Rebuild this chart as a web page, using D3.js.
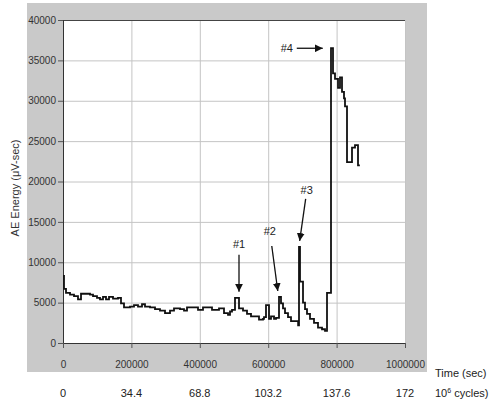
<!DOCTYPE html>
<html><head><meta charset="utf-8">
<script src="https://cdn.jsdelivr.net/npm/d3@7"></script>
<style>body{margin:0;background:#fff}text{font-family:"Liberation Sans",Arial,sans-serif}</style>
</head><body><svg id="c" width="489" height="404"></svg>
<script>
const timeSec = [0,2924,8772,20468,32164,43860,52632,78947,87719,99415,108187,116959,125731,134503,146199,160819,169591,178363,195906,207602,219298,230994,239766,254386,269006,283626,298246,312865,324561,342105,353801,362573,394737,409357,435673,456140,470760,482456,488304,494152,502924,514620,526316,538012,549708,573099,584795,587719,593567,602339,608187,617032,622807,631579,637427,643275,649123,657895,666667,687500,690058,692982,701754,707602,713450,722222,733918,745614,757310,766082,771930,783626,789474,795322,804094,809942,815789,821637,824561,830409,845029,853801,862573];
const energy  = [8300,6700,6200,6000,5800,5400,6100,6000,5800,5600,5400,5700,5400,5700,5500,5600,4900,4400,4500,4700,4500,4800,4500,4400,4200,4000,3700,4000,4300,4200,4000,4400,4100,4400,4100,4300,3700,3500,3900,4100,5600,4300,4000,3600,3300,2900,3000,3200,4700,3000,3300,3000,3100,5700,4900,4300,3700,3200,2700,2200,11900,7600,5000,4200,3600,3000,2500,1900,1700,1500,6200,36500,33400,32700,31600,32900,31100,30300,29300,22400,24200,24500,22000];
const endTime = 868000;
const xTicks = [0,200000,400000,600000,800000,1000000];
const yTicks = [0,5000,10000,15000,20000,25000,30000,35000,40000];
const cycleLabels = ["0","34.4","68.8","103.2","137.6","172"];
const notes = [
  {label:"#1", t:514620, v:5600, from:[0,-37], lab:[0,-48]},
  {label:"#2", t:628000, v:5700, from:[-6,-45], lab:[-8,-60]},
  {label:"#3", t:692000, v:11900, from:[6,-42], lab:[7,-51]},
  {label:"#4", t:780000, v:36500, from:[-33,0], lab:[-43,0]}
];

const svg = d3.select("#c");
const L=63,T=20,R=405,B=343;
const x = d3.scaleLinear().domain([0,1000000]).range([L,R]);
const y = d3.scaleLinear().domain([0,40000]).range([B,T]);

svg.append("defs").append("marker").attr("id","ah").attr("viewBox","0 0 10 10")
  .attr("refX",10).attr("refY",5).attr("markerWidth",6).attr("markerHeight",6).attr("orient","auto")
  .append("path").attr("d","M0,0L10,5L0,10z").attr("fill","#111");

svg.append("rect").attr("x",27).attr("y",3).attr("width",400).attr("height",369).attr("fill","#c9c9c9");
svg.append("rect").attr("x",L).attr("y",T).attr("width",R-L).attr("height",B-T).attr("fill","#fff");

// grid
svg.append("g").selectAll("line").data(yTicks.slice(1,-1)).join("line")
  .attr("x1",L).attr("x2",R).attr("y1",d=>y(d)+0.5).attr("y2",d=>y(d)+0.5).attr("stroke","#c4c4c4");
svg.append("g").selectAll("line").data(xTicks.slice(1)).join("line")
  .attr("y1",T).attr("y2",B).attr("x1",d=>x(d)+0.5).attr("x2",d=>x(d)+0.5).attr("stroke","#c4c4c4");
svg.append("line").attr("x1",L).attr("x2",R).attr("y1",T+0.5).attr("y2",T+0.5).attr("stroke","#444");

// axes
const ya = svg.append("g").attr("transform",`translate(${L},0)`)
  .call(d3.axisLeft(y).tickValues(yTicks).tickFormat(d3.format("d")).tickSize(5).tickPadding(2));
const xa = svg.append("g").attr("transform",`translate(0,${B})`)
  .call(d3.axisBottom(x).tickValues(xTicks).tickFormat(d3.format("d")).tickSize(5).tickPadding(13));
[ya,xa].forEach(g=>{g.select(".domain").attr("stroke","#333");g.selectAll(".tick line").attr("stroke","#555");
  g.selectAll("text").attr("font-size",10).attr("fill","#333").attr("font-family","Liberation Sans, Arial");});

// cycles row
svg.append("g").selectAll("text").data(xTicks).join("text")
  .attr("x",(d)=>x(d)).attr("y",397).attr("text-anchor","middle").attr("font-size",11).attr("fill","#222")
  .text((d,i)=>cycleLabels[i]);

svg.append("text").attr("x",435).attr("y",377).attr("font-size",11).attr("fill","#222").text("Time (sec)");
const cy = svg.append("text").attr("x",435).attr("y",397).attr("font-size",11).attr("fill","#222");
cy.append("tspan").text("10");
cy.append("tspan").attr("dy",-4).attr("font-size",7).text("6");
cy.append("tspan").attr("dy",4).text(" cycles)");

svg.append("text").attr("transform","translate(19,188) rotate(-90)").attr("text-anchor","middle")
  .attr("font-size",11).attr("fill","#333").text("AE Energy (\u03bcV-sec)");

// data line
const pts = timeSec.map((t,i)=>[t,energy[i]]);
pts.push([endTime, energy[energy.length-1]]);
svg.append("path").datum(pts).attr("fill","none").attr("stroke","#111").attr("stroke-width",1.8)
  .attr("d",d3.line().x(d=>x(d[0])).y(d=>y(d[1])).curve(d3.curveStepAfter));

// annotations
notes.forEach(n=>{
  const tx = x(n.t), ty = y(n.v) - (n.label==="#4"?0:6);
  const tipx = n.label==="#4" ? tx-7 : tx;
  svg.append("line").attr("x1",tx+n.from[0]).attr("y1",ty+n.from[1]).attr("x2",tipx).attr("y2",ty)
    .attr("stroke","#111").attr("stroke-width",1.3).attr("marker-end","url(#ah)");
  svg.append("text").attr("x",tx+n.lab[0]).attr("y",ty+n.lab[1]+4).attr("text-anchor","middle")
    .attr("font-size",11).attr("fill","#222").text(n.label);
});
</script></body></html>
